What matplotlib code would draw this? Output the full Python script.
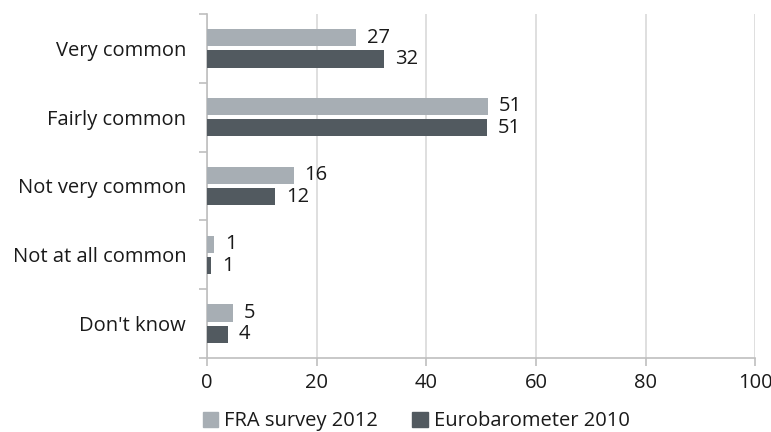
import numpy as np
import matplotlib
matplotlib.use('Agg')
import matplotlib.pyplot as plt
from matplotlib.patches import Patch

categories = ["Very common", "Fairly common", "Not very common", "Not at all common", "Don't know"]
fra_2012 = [27, 51, 16, 1, 5]
euro_2010 = [32, 51, 12, 1, 4]
fra_values = [27.2, 51.3, 15.8, 1.3, 4.7]
euro_values = [32.3, 51.1, 12.4, 0.8, 3.8]
series_names = ["FRA survey 2012", "Eurobarometer 2010"]

light = '#a7aeb4'
dark = '#525a60'
text_col = '#1a1a1a'
fs = 14.5

plt.rcParams['font.family'] = ['Open Sans', 'DejaVu Sans']

fig = plt.figure(figsize=(7.71, 4.32), dpi=100)
ax = fig.add_axes([0.2685, 0.171, 0.711, 0.797])

y = np.arange(len(categories))
h = 0.25
ax.barh(y - 0.155, fra_values, height=h, color=light, zorder=3)
ax.barh(y + 0.155, euro_values, height=h, color=dark, zorder=3)

for yi, v, lab in zip(y, fra_values, fra_2012):
    ax.text(v + 2.0, yi - 0.155, str(lab), va='center', ha='left', fontsize=fs, color=text_col)
for yi, v, lab in zip(y, euro_values, euro_2010):
    ax.text(v + 2.0, yi + 0.155, str(lab), va='center', ha='left', fontsize=fs, color=text_col)

ax.set_xlim(0, 100)
ax.set_ylim(len(categories) - 0.5, -0.5)
ax.set_xticks(np.arange(0, 101, 20))
ax.set_yticks(y)
ax.set_yticklabels(categories)
ax.set_yticks(np.arange(-0.5, len(categories), 1), minor=True)
ax.tick_params(axis='y', which='major', length=0, pad=15, labelsize=fs, labelcolor=text_col)
ax.tick_params(axis='y', which='minor', length=6, color='#bfbfbf', width=1.2)
ax.tick_params(axis='x', length=6, color='#bfbfbf', width=1.2, labelsize=fs, labelcolor=text_col, pad=5)

ax.grid(axis='x', color='#d9d9d9', linewidth=1.2, zorder=0)
for s in ['top', 'right']:
    ax.spines[s].set_visible(False)
for s in ['left', 'bottom']:
    ax.spines[s].set_color('#bfbfbf')
    ax.spines[s].set_linewidth(1.2)

handles = [Patch(color=light), Patch(color=dark)]
fig.legend(handles, series_names, loc='lower left', bbox_to_anchor=(0.24, -0.04),
           ncol=2, frameon=False, fontsize=fs, handlelength=0.75, handleheight=0.75,
           handletextpad=0.3, columnspacing=1.7, labelcolor=text_col)

fig.savefig('out.png', dpi=100)
